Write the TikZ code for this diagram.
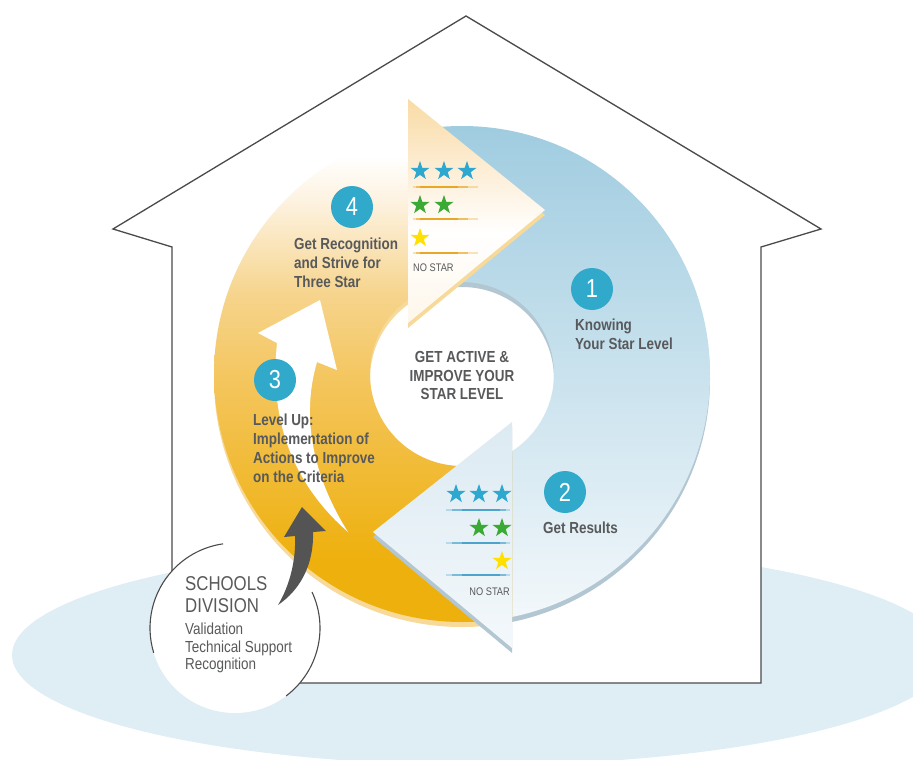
\documentclass[tikz,border=0pt]{standalone}
\usepackage{fontspec}
\setmainfont{Liberation Sans}
\newfontfamily\cond{Liberation Sans}[FakeStretch=0.84]
\usetikzlibrary{shapes.geometric}
\definecolor{txt}{HTML}{58595B}
\definecolor{teal1}{HTML}{30A9CB}
\definecolor{starblue}{HTML}{2FA8D0}
\definecolor{stargreen}{HTML}{3BAA35}
\definecolor{staryellow}{HTML}{FFE000}
\definecolor{groundblue}{HTML}{DFEDF5}
\definecolor{houseline}{HTML}{4A4A4A}
\definecolor{blueTop}{HTML}{A0CCE0}
\definecolor{blueBot}{HTML}{F3F8FB}
\definecolor{blueArr}{HTML}{DCEAF2}
\definecolor{blueRim}{HTML}{B3C7D3}
\definecolor{orRim}{HTML}{F7D99A}
\definecolor{orA}{HTML}{EEB00C}
\definecolor{orB}{HTML}{F4C55C}
\definecolor{orC}{HTML}{F6D48C}
\definecolor{orD}{HTML}{FDF1DD}
\definecolor{arrTop}{HTML}{F9DBA5}
\definecolor{arrMid}{HTML}{FDEFD9}
\definecolor{arrBot}{HTML}{FEF6EA}
\definecolor{lineOr}{HTML}{E8A520}
\definecolor{lineBl}{HTML}{48A2CC}
\definecolor{darkarrow}{HTML}{545454}
\pgfdeclareverticalshading{orring}{100bp}{color(0bp)=(orA); color(31bp)=(orA); color(49bp)=(orB); color(58bp)=(orC); color(67bp)=(orD); color(72bp)=(white); color(100bp)=(white)}
\pgfdeclareverticalshading{arrowtop}{100bp}{color(0bp)=(arrBot); color(25bp)=(arrBot); color(45bp)=(white); color(58bp)=(arrMid); color(75bp)=(arrTop); color(100bp)=(arrTop)}
\tikzset{
  lbl/.style={anchor=base west, inner sep=0pt, text=txt, font=\cond\bfseries\fontsize{16}{19}\selectfont},
  lblc/.style={anchor=base, inner sep=0pt, text=txt, font=\cond\bfseries\fontsize{16}{19}\selectfont},
  big/.style={anchor=base west, inner sep=0pt, text=txt, font=\cond\fontsize{20}{22}\selectfont},
  small/.style={anchor=base west, inner sep=0pt, text=txt, font=\cond\fontsize{16}{18}\selectfont},
  nostar/.style={inner sep=0pt, text=txt, font=\cond\fontsize{11}{11}\selectfont},
  num/.style={circle, fill=teal1, minimum size=42pt, inner sep=0pt, text=white, font=\cond\fontsize{26}{26}\selectfont},
  starbase/.style={star, star points=5, star point ratio=2.55, minimum size=20pt, inner sep=0pt, draw=none},
  sB/.style={starbase, fill=starblue},
  sG/.style={starbase, fill=stargreen},
  sY/.style={starbase, fill=staryellow},
  sep1/.style={fill=#1, opacity=0.3},
  sep2/.style={fill=#1, opacity=0.55},
  sep3/.style={fill=#1, opacity=0.9},
}
\begin{document}
\begin{tikzpicture}[x=1pt,y=-1pt]
\useasboundingbox (0,0) rectangle (913,760);
% ground
\fill[groundblue] (480,655) ellipse[x radius=468, y radius=110];
% house
\draw[houseline, line width=1.3pt, fill=white, line join=miter]
  (172,683) -- (172,247) -- (113,229) -- (466,16) -- (821,229) -- (761,247) -- (761,683) -- cycle;
% blue ring (right)
\begin{scope}
  \clip (408,-20) -- (940,-20) -- (940,800) -- (512,800) -- (512,374) -- (408,374) -- cycle;
  \fill[blueRim, even odd rule] (462,379) circle[radius=248] (462,379) circle[radius=92];
  \shade[top color=blueTop, bottom color=blueBot, even odd rule] (462,374) circle[radius=248] (462,374) circle[radius=92];
\end{scope}
% orange ring (left)
\begin{scope}
  \clip (408,-20) -- (-20,-20) -- (-20,800) -- (512,800) -- (512,374) -- (408,374) -- cycle;
  \fill[orRim, even odd rule] (462,379) circle[radius=248] (462,379) circle[radius=92];
  \shade[shading=orring, even odd rule] (462,374) circle[radius=248] (462,374) circle[radius=92];
\end{scope}
% top arrowhead
\fill[orRim] (408,104) -- (545,215) -- (408,328) -- cycle;
\shade[shading=arrowtop] (408,99) -- (545,210) -- (408,323) -- cycle;
% bottom arrowhead
\fill[blueRim] (512,427) -- (373,537) -- (512,653) -- cycle;
\shade[top color=blueArr, bottom color=blueBot] (512,422) -- (373,532) -- (512,648) -- cycle;
% white arrow
\fill[white] (348,532) .. controls (300,490) and (268,430) .. (277,343) -- (258,333) -- (320,300) -- (337,370) -- (317,362) .. controls (300,420) and (315,480) .. (348,532) -- cycle;
% stars top
\node[sB] (st1) at (420,171) {};
\node[sB] (st2) at (444,171) {};
\node[sB] (st3) at (467,171) {};
\node[sG] (st4) at (420,205) {};
\node[sG] (st5) at (444,205) {};
\node[sY] (st6) at (420,238) {};
\foreach \yy in {187,219,253}{
  \fill[sep1=lineOr] (413,\yy-1) rectangle (478,\yy+1);
  \fill[sep2=lineOr] (416,\yy-1) rectangle (468,\yy+1);
  \fill[sep3=lineOr] (420,\yy-1) rectangle (458,\yy+1);
}
\node[nostar, anchor=base west] (ns1) at (413,271) {NO STAR};
% stars bottom
\node[sB] (sb1) at (456,494) {};
\node[sB] (sb2) at (479,494) {};
\node[sB] (sb3) at (502,494) {};
\node[sG] (sb4) at (479,528) {};
\node[sG] (sb5) at (502,528) {};
\node[sY] (sb6) at (502,561) {};
\foreach \yy in {510,543,575}{
  \fill[sep1=lineBl] (446,\yy-1) rectangle (510,\yy+1);
  \fill[sep2=lineBl] (452,\yy-1) rectangle (506,\yy+1);
  \fill[sep3=lineBl] (462,\yy-1) rectangle (500,\yy+1);
}
\node[nostar, anchor=base east] (ns2) at (510,595) {NO STAR};
% numbers
\node[num] (n1) at (592,289) {1};
\node[num] (n2) at (565,492) {2};
\node[num] (n3) at (275,380) {3};
\node[num] (n4) at (352,207) {4};
% labels
\node[lbl] (l1a) at (575,330) {Knowing};
\node[lbl] (l1b) at (575,349) {Your Star Level};
\node[lbl] (l2a) at (543,533) {Get Results};
\node[lbl] (l3a) at (253,425) {Level Up:};
\node[lbl] (l3b) at (253,444) {Implementation of};
\node[lbl] (l3c) at (253,463) {Actions to Improve};
\node[lbl] (l3d) at (253,482) {on the Criteria};
\node[lbl] (l4a) at (294,249) {Get Recognition};
\node[lbl] (l4b) at (294,268) {and Strive for};
\node[lbl] (l4c) at (294,287) {Three Star};
\node[lblc] (c1) at (462,362) {GET ACTIVE \&};
\node[lblc] (c2) at (462,381) {IMPROVE YOUR};
\node[lblc] (c3) at (462,399) {STAR LEVEL};
% schools division circle
\fill[white] (235,628) circle[radius=85];
\draw[houseline, line width=1.1pt] (235,628) ++(163:85) arc[start angle=163, end angle=262, radius=85];
\draw[houseline, line width=1.1pt] (235,628) ++(-25:85) arc[start angle=-25, end angle=53, radius=85];
\node[big] (sd1) at (185,590) {SCHOOLS};
\node[big] (sd2) at (185,612) {DIVISION};
\node[small] (sd3) at (185,634) {Validation};
\node[small] (sd4) at (185,652) {Technical Support};
\node[small] (sd5) at (185,669) {Recognition};
% dark arrow
\fill[darkarrow] (278,605) .. controls (290,585) and (296,560) .. (295,536) -- (284,537) -- (302,507) -- (326,531) -- (313,532) .. controls (314,565) and (300,590) .. (278,605) -- cycle;
\end{tikzpicture}
\end{document}
